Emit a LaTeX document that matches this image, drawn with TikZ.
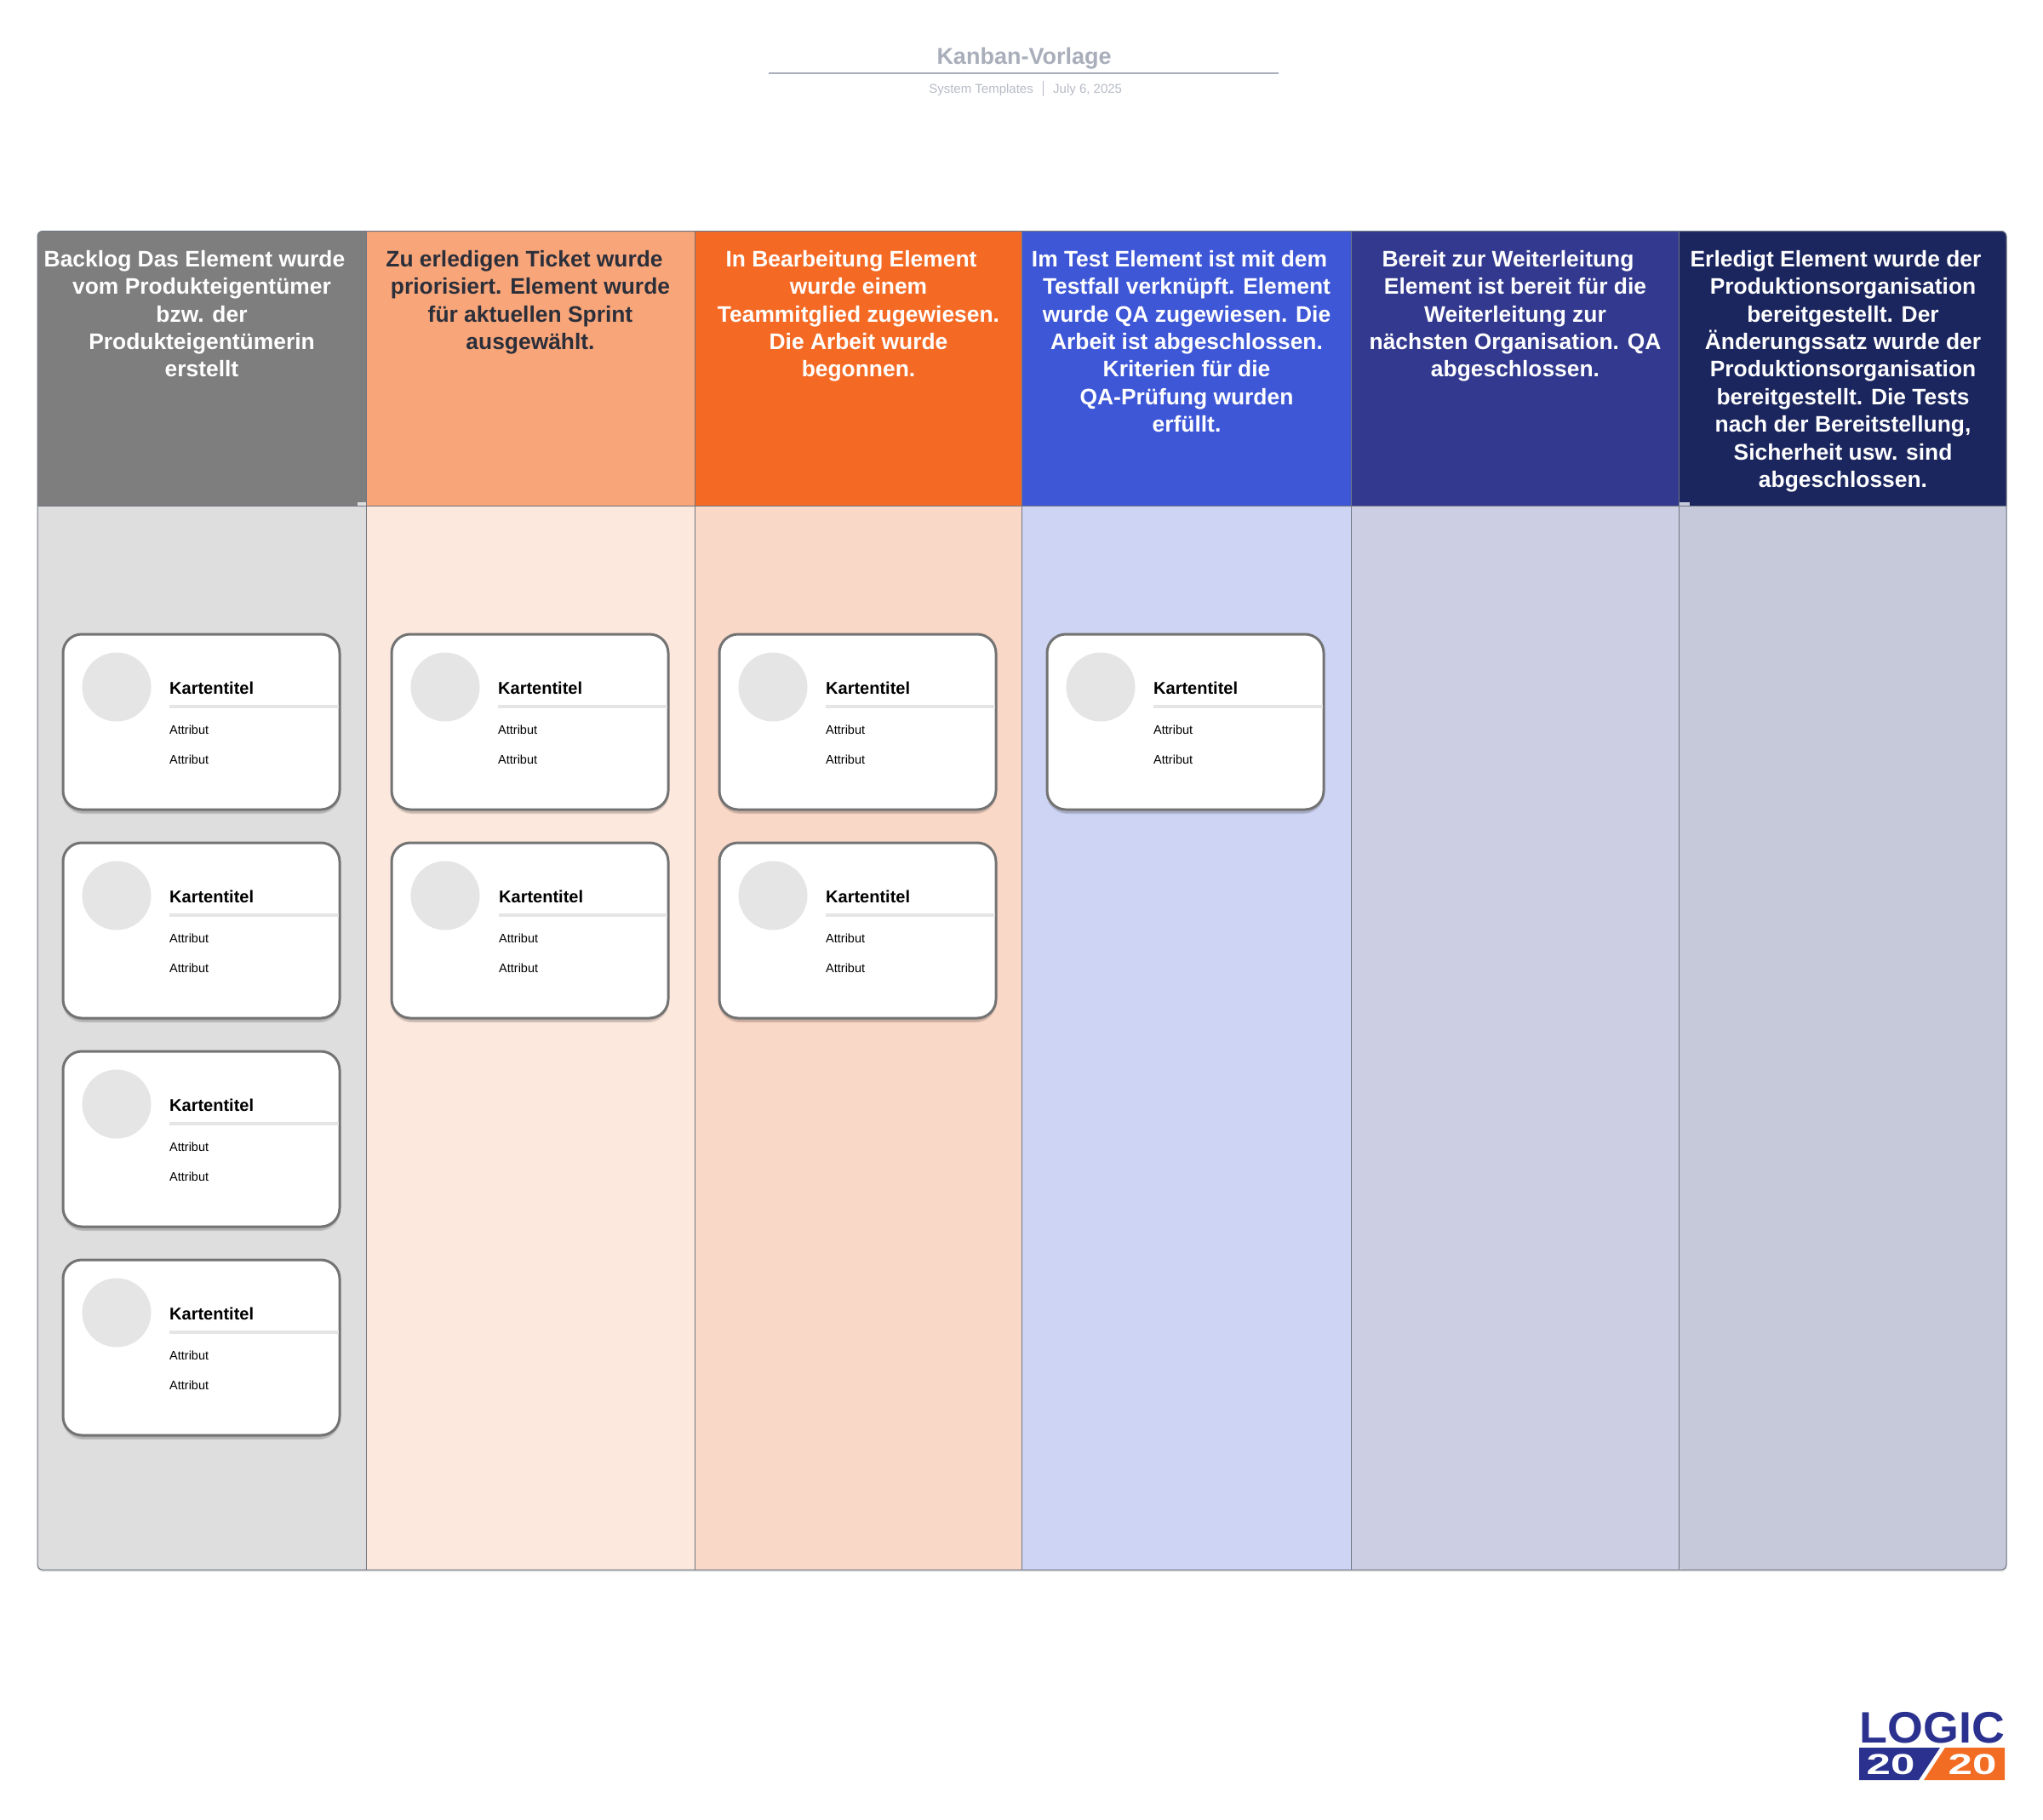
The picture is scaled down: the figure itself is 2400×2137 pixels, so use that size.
\documentclass[tikz,border=0pt]{standalone}
\usepackage{fontspec}
\usepackage{graphicx}
\setmainfont{Liberation Sans}
\definecolor{gridc}{HTML}{6F7683}
\definecolor{titlec}{HTML}{A9AEBB}
\definecolor{subc}{HTML}{B7BBC6}
\definecolor{cardc}{HTML}{737373}
\definecolor{lightc}{HTML}{E5E5E5}
\definecolor{darktxt}{HTML}{2B2F3A}
\definecolor{logob}{HTML}{2B318F}
\definecolor{logoo}{HTML}{F36C24}
\definecolor{hA}{HTML}{7E7E7E}\definecolor{bA}{HTML}{DEDEDE}
\definecolor{hB}{HTML}{F8A57A}\definecolor{bB}{HTML}{FCE8DD}
\definecolor{hC}{HTML}{F46A25}\definecolor{bC}{HTML}{FAD8C8}
\definecolor{hD}{HTML}{3E57D6}\definecolor{bD}{HTML}{CED5F4}
\definecolor{hE}{HTML}{32398E}\definecolor{bE}{HTML}{CCCEE3}
\definecolor{hF}{HTML}{1B265F}\definecolor{bF}{HTML}{C6C9DA}
\tikzset{
  hdrtext/.style={anchor=north,inner sep=0pt,align=center,font=\fontsize{26.4}{32.4}\bfseries\selectfont},
  cardtitle/.style={anchor=base west,inner sep=0pt,font=\fontsize{20}{24}\bfseries\selectfont,text=black},
  cardattr/.style={anchor=base west,inner sep=0pt,font=\fontsize{14.5}{18}\selectfont,text=black},
  cardbox/.style={draw=cardc,line width=3pt,fill=white,rounded corners=22pt},
  cardshadow/.style={fill=black,opacity=0.07,rounded corners=24pt},
  gridline/.style={draw=gridc,line width=1pt},
}
\newcommand{\fs}{\rule{0pt}{24pt}}
\newcommand{\pad}[1]{\rule{#1pt}{0pt}}
% #1 name, #2 x, #3 y, #4 text offset
\newcommand{\kcard}[4]{%
  \fill[cardshadow] (#2-1,#3+3) rectangle ++(327,208);
  \fill[cardshadow] (#2+0,#3+4) rectangle ++(325,207);
  \fill[cardshadow] (#2+1,#3+5) rectangle ++(323,205);
  \path[cardbox] (#2,#3) rectangle ++(325,206);
  \node[circle,fill=lightc,minimum size=81pt,inner sep=0pt] (#1c) at (#2+63,#3+62) {};
  \node[cardtitle] (#1t) at (#2+125+#4,#3+70) {Kartentitel};
  \draw[lightc,line width=4pt] (#2+125+#4,#3+85) -- (#2+323.5,#3+85);
  \node[cardattr] (#1a) at (#2+125+#4,#3+117) {Attribut};
  \node[cardattr] (#1b) at (#2+125+#4,#3+152) {Attribut};
}
\begin{document}
\begin{tikzpicture}[x=1pt,y=-1pt]
\useasboundingbox (0,0) rectangle (2400,2137);
\fill[white] (0,0) rectangle (2400,2137);
% title block
\node[anchor=base,inner sep=0pt,text=titlec,font=\fontsize{27}{32}\bfseries\selectfont] (title) at (1203,75) {Kanban-Vorlage};
\coordinate (ruleL) at (903,86); \coordinate (ruleR) at (1502,86);
\draw[titlec,line width=2pt] (ruleL) -- (ruleR);
\node[anchor=base east,inner sep=0pt,text=subc,font=\fontsize{15}{18}\selectfont] (sys) at (1214,109) {System Templates};
\node[anchor=base west,inner sep=0pt,text=subc,font=\fontsize{15}{18}\selectfont] (date) at (1237,109) {July 6, 2025};
\draw[subc,line width=1.2pt] (1225.5,95) -- (1225.5,113);
% outer shadow
\fill[black,opacity=0.15,rounded corners=6pt] (44,280) rectangle (2357.5,1846);
% body fills
\fill[bA,rounded corners=6pt] (44,590) -- (44,1844) -- (430,1844) -- (430,590) -- cycle;
\fill[bB] (430,594) rectangle (816,1844);
\fill[bC] (816,594) rectangle (1200.5,1844);
\fill[bD] (1200.5,594) rectangle (1587,1844);
\fill[bE] (1587,594) rectangle (1972,1844);
\fill[bF,rounded corners=6pt] (1972,590) -- (1972,1844) -- (2357,1844) -- (2357,590) -- cycle;
% header fills
\fill[hA,rounded corners=6pt] (44,594) -- (44,271.5) -- (430,271.5) -- (430,594) -- cycle;
\fill[hA] (44,580) rectangle (56,594);
\fill[hA] (420,271.5) rectangle (430,594);
\fill[hB] (430,271.5) rectangle (816,594);
\fill[hC] (816,271.5) rectangle (1200.5,594);
\fill[hD] (1200.5,271.5) rectangle (1587,594);
\fill[hE] (1587,271.5) rectangle (1972,594);
\fill[hF,rounded corners=6pt] (1972,271.5) -- (2357,271.5) -- (2357,594) -- (1972,594) -- cycle;
\fill[hF] (1972,271.5) rectangle (1985,594);
\fill[hF] (2345,580) rectangle (2357,594);
\fill[bA] (420,590) rectangle (430,600);
\fill[bF] (1972,590) rectangle (1985,600);
\fill[bA] (44,594) rectangle (56,610);
\fill[bF] (2345,594) rectangle (2357,610);
% grid
\draw[gridline,rounded corners=6pt] (44,271.5) rectangle (2357,1844);
\draw[gridline] (44,594) -- (2357,594);
\draw[gridline] (430,271.5) -- (430,1844);
\draw[gridline] (816,271.5) -- (816,1844);
\draw[gridline] (1200.5,271.5) -- (1200.5,1844);
\draw[gridline] (1587,271.5) -- (1587,1844);
\draw[gridline] (1972,271.5) -- (1972,1844);
% header texts
\node[hdrtext,text=white] (h1) at (237,289) {\fs Backlog Das Element wurde\pad{17}\\vom Produkteigentümer\\bzw. der\\Produkteigentümerin\\erstellt};
\node[hdrtext,text=darktxt] (h2) at (623,289) {\fs Zu erledigen Ticket wurde\pad{14}\\priorisiert. Element wurde\\für aktuellen Sprint\\ausgewählt.};
\node[hdrtext,text=white] (h3) at (1008.5,289) {\fs In Bearbeitung Element\pad{17}\\wurde einem\\Teammitglied zugewiesen.\\Die Arbeit wurde\\begonnen.};
\node[hdrtext,text=white] (h4) at (1394,289) {\fs Im Test Element ist mit dem\pad{17}\\Testfall verknüpft. Element\\wurde QA zugewiesen. Die\\Arbeit ist abgeschlossen.\\Kriterien für die\\QA-Prüfung wurden\\erfüllt.};
\node[hdrtext,text=white] (h5) at (1780,289) {\fs Bereit zur Weiterleitung\pad{17}\\Element ist bereit für die\\Weiterleitung zur\\nächsten Organisation. QA\\abgeschlossen.};
\node[hdrtext,text=white] (h6) at (2165,289) {\fs Erledigt Element wurde der\pad{17}\\Produktionsorganisation\\bereitgestellt. Der\\Änderungssatz wurde der\\Produktionsorganisation\\bereitgestellt. Die Tests\\nach der Bereitstellung,\\Sicherheit usw. sind\\abgeschlossen.};
% cards
\kcard{a1}{74}{745}{0}
\kcard{a2}{74}{990}{0}
\kcard{a3}{74}{1235}{0}
\kcard{a4}{74}{1480}{0}
\kcard{b1}{460}{745}{0}
\kcard{b2}{460}{990}{1}
\kcard{c1}{845}{745}{0}
\kcard{c2}{845}{990}{0}
\kcard{d1}{1230}{745}{0}
% logo
\node[anchor=base,inner sep=0pt,text=logob,font=\fontsize{51.7}{52}\bfseries\selectfont] (logoA) at (2270,2047) {\scalebox{1.04}[1]{LOGIC}};
\fill[logob] (2184,2053) -- (2279,2053) -- (2254,2091) -- (2184,2091) -- cycle;
\fill[logoo] (2285,2053) -- (2355,2053) -- (2355,2091) -- (2260,2091) -- cycle;
\node[anchor=base,inner sep=0pt,text=white,font=\fontsize{34}{34}\bfseries\selectfont] (logoB) at (2221,2084) {\scalebox{1.5}[1]{20}};
\node[anchor=base,inner sep=0pt,text=white,font=\fontsize{34}{34}\bfseries\selectfont] (logoC) at (2317,2084) {\scalebox{1.5}[1]{20}};
\end{tikzpicture}
\end{document}
